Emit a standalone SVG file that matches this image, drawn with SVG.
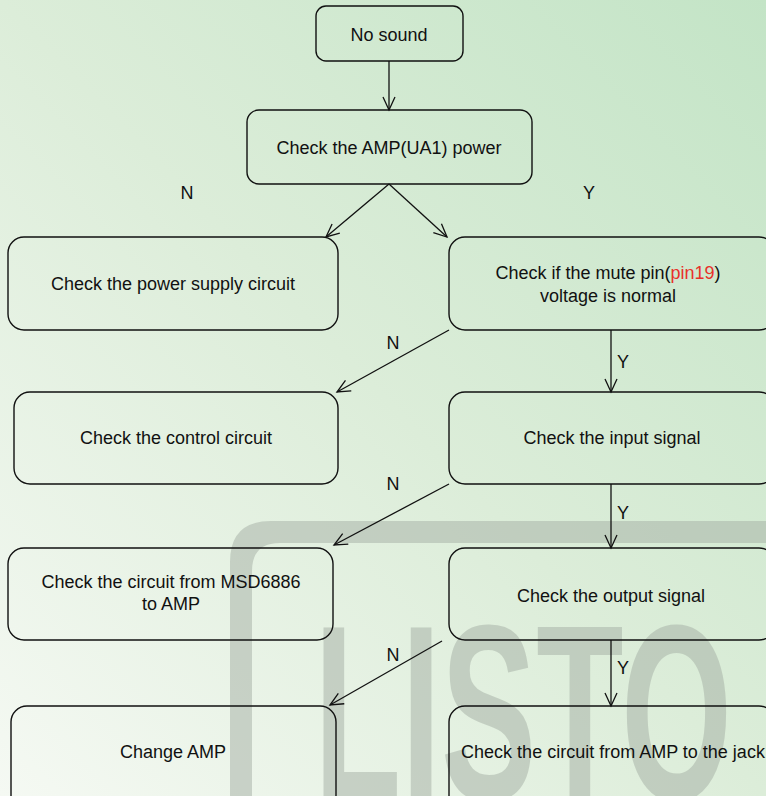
<svg xmlns="http://www.w3.org/2000/svg" width="766" height="796" viewBox="0 0 766 796">
<defs>
<linearGradient id="bg" x1="0" y1="1" x2="1" y2="0">
<stop offset="0" stop-color="#f5f9f3"/>
<stop offset="0.5" stop-color="#dcedd9"/>
<stop offset="1" stop-color="#c3e4c6"/>
</linearGradient>
<marker id="arr" markerUnits="userSpaceOnUse" markerWidth="16" markerHeight="16" viewBox="0 0 16 16" refX="14" refY="8" orient="auto">
<path d="M1,2 L14,8 L1,14" fill="none" stroke="#111" stroke-width="1.3"/>
</marker>
<style>
.box{fill:none;stroke:#111;stroke-width:1.4}
.t{font-family:"Liberation Sans",Arial,sans-serif;font-size:18px;fill:#111;text-anchor:middle}
.c{fill:none;stroke:#111;stroke-width:1.3;marker-end:url(#arr)}
.wm{fill:#a4aea4;opacity:0.5}
</style>
</defs>
<rect x="0" y="0" width="766" height="796" fill="url(#bg)"/>
<g id="watermark">
<path class="wm" d="M230,796 L230,562 Q230,521 271,521 L766,521 L766,543 L280,543 Q252,543 252,571 L252,796 Z"/>
<text x="314" y="800" font-family="Liberation Sans,Arial,sans-serif" font-weight="bold" font-size="250" textLength="418" lengthAdjust="spacingAndGlyphs" class="wm">LISTO</text>
</g>
<g id="connectors">
<line class="c" x1="389" y1="61" x2="389" y2="110"/>
<line class="c" x1="389" y1="184" x2="326" y2="237"/>
<line class="c" x1="389" y1="184" x2="447" y2="237"/>
<line class="c" x1="449" y1="330" x2="337" y2="392"/>
<line class="c" x1="611" y1="330" x2="611" y2="392"/>
<line class="c" x1="449" y1="484" x2="334" y2="545"/>
<line class="c" x1="611" y1="484" x2="611" y2="548"/>
<line class="c" x1="442" y1="641" x2="330" y2="705"/>
<line class="c" x1="611" y1="640" x2="611" y2="706"/>
<text class="t" x="187" y="199">N</text>
<text class="t" x="589" y="199">Y</text>
<text class="t" x="393" y="349">N</text>
<text class="t" x="623" y="368">Y</text>
<text class="t" x="393" y="490">N</text>
<text class="t" x="623" y="519">Y</text>
<text class="t" x="393" y="661">N</text>
<text class="t" x="623" y="674">Y</text>
</g>
<g id="n1"><rect class="box" x="316" y="6" width="147" height="55" rx="10"/><text class="t" x="389" y="41">No sound</text></g>
<g id="n2"><rect class="box" x="247" y="110" width="285" height="74" rx="12"/><text class="t" x="389" y="154">Check the AMP(UA1) power</text></g>
<g id="n3"><rect class="box" x="8" y="237" width="330" height="93" rx="16"/><text class="t" x="173" y="290">Check the power supply circuit</text></g>
<g id="n4"><rect class="box" x="449" y="237" width="326" height="93" rx="16"/><text class="t" x="608" y="279">Check if the mute pin(<tspan fill="#e8302a">pin19</tspan>)</text><text class="t" x="608" y="302">voltage is normal</text></g>
<g id="n5"><rect class="box" x="14" y="392" width="324" height="92" rx="16"/><text class="t" x="176" y="444">Check the control circuit</text></g>
<g id="n6"><rect class="box" x="449" y="392" width="326" height="92" rx="16"/><text class="t" x="612" y="444">Check the input signal</text></g>
<g id="n7"><rect class="box" x="8" y="548" width="325" height="92" rx="16"/><text class="t" x="171" y="588">Check the circuit from MSD6886</text><text class="t" x="171" y="610">to AMP</text></g>
<g id="n8"><rect class="box" x="449" y="548" width="326" height="92" rx="16"/><text class="t" x="611" y="602">Check the output signal</text></g>
<g id="n9"><rect class="box" x="11" y="706" width="325" height="105" rx="16"/><text class="t" x="173" y="758">Change AMP</text></g>
<g id="n10"><rect class="box" x="449" y="706" width="326" height="105" rx="16"/><text class="t" x="613" y="758">Check the circuit from AMP to the jack</text></g>
</svg>
